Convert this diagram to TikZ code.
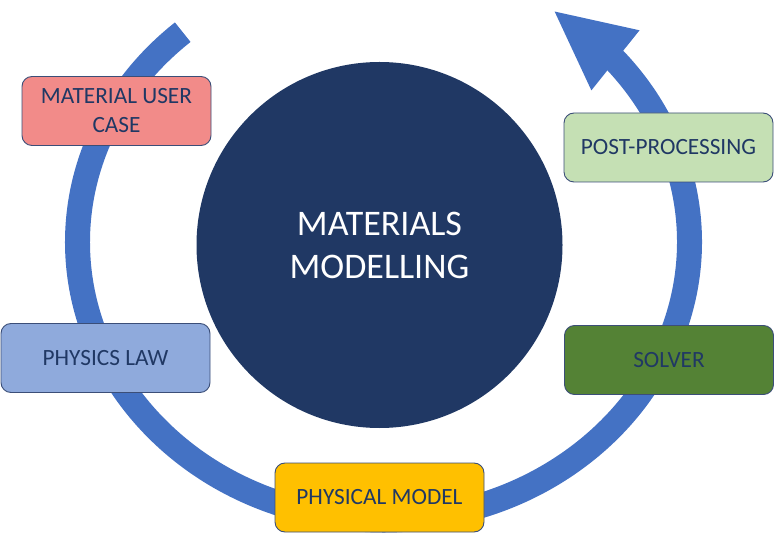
\documentclass[tikz,border=0pt]{standalone}
\usepackage{fontspec}
\setmainfont{Carlito}
\usetikzlibrary{arrows.meta, bending}
\definecolor{mmNavy}{HTML}{203864}
\definecolor{mmBand}{HTML}{4472C4}
\definecolor{mmEdge}{HTML}{3B4E78}
\definecolor{mmRose}{HTML}{F28B89}
\definecolor{mmMint}{HTML}{C5E0B4}
\definecolor{mmSky}{HTML}{8FAADC}
\definecolor{mmAmber}{HTML}{FFC000}
\definecolor{mmLeaf}{HTML}{548235}
\tikzset{
  cycleband/.style = {mmBand, line width=25pt,
                      -{Triangle[flex, length=78pt, width=77pt, line width=0pt]}},
  hubdisc/.style   = {circle, fill=mmNavy, minimum size=366pt, inner sep=0pt,
                      text=white, align=center, font=\fontsize{36}{43}\selectfont},
  stagebox/.style  = {rounded corners=10pt, draw=mmEdge, line width=0.9pt,
                      minimum width=209pt, minimum height=69pt, inner sep=0pt,
                      align=center, text=mmNavy, font=\fontsize{23.3}{29}\selectfont},
}

\begin{document}
\begin{tikzpicture}[x=1pt, y=1pt]
  \useasboundingbox (0,0) rectangle (779,544);

  % the cycle, drawn under the boxes
  \draw[cycleband] (383.5,302) ++(131:306 and 278)
    arc[start angle=131, end angle=416, x radius=306, y radius=278];

  \node[hubdisc] (hub) at (379.5,299) {MATERIALS\\MODELLING};

  \node[stagebox, fill=mmRose, minimum width=189pt] (usercase) at (116.5,433) {MATERIAL USER\\CASE};
  \node[stagebox, fill=mmSky]   (physlaw)   at (105.5,186)  {PHYSICS LAW};
  \node[stagebox, fill=mmAmber] (physmodel) at (379.5,46.5) {PHYSICAL MODEL};
  \node[stagebox, fill=mmLeaf]  (solver)    at (669,184)    {SOLVER};
  \node[stagebox, fill=mmMint]  (postproc)  at (668.5,396.5) {POST-PROCESSING};
\end{tikzpicture}
\end{document}
